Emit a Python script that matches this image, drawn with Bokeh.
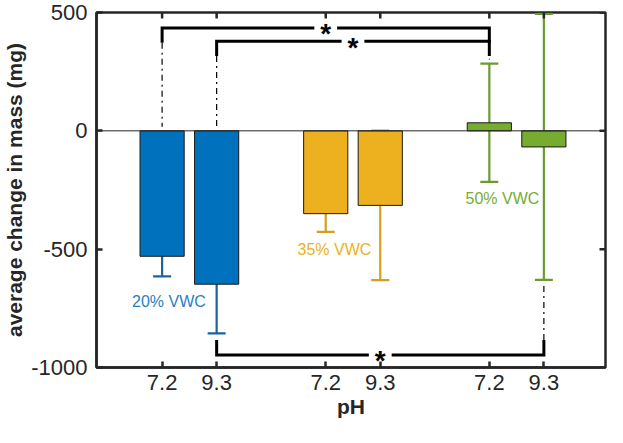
import math
from bokeh.plotting import figure
from bokeh.models import (ColumnDataSource, FixedTicker, Range1d, Span, Whisker, TeeHead)
from bokeh.embed import file_html
from bokeh.resources import INLINE
from bokeh.core.properties import value

# ---------------- data ----------------
groups = ["20% VWC", "35% VWC", "50% VWC"]
ph_labels = ["7.2", "9.3"]
mean_mass = [-530, -648, -350, -315, 34, -68]
err_mass = [85, 208, 77, 316, 250, 562]
bar_colors = ["#0072BD", "#EDB120", "#77AC30"]
err_colors = ["#1b62a0", "#d49f1c", "#6a9b30"]
label_colors = ["#2a7fc2", "#EDB120", "#77AC30"]
label_dx = [0.25, 0.32, 0.48]          # label offset from the group's 7.2 bar
label_y = [-720, -500, -284]
y_ticks = [-1000, -500, 0, 500]
y_tick_labels = ["-1000", "-500", "0", "500"]

# significance brackets: bars compared (index into bars) and bracket level
sig_a = [0, 1, 1]
sig_b = [4, 4, 5]
sig_level = [435, 379, -947]
sig_text = ["*", "*", "*"]

# ---------------- layout helpers ----------------
FONT = "Liberation Sans"
AX = "#262626"
bar_x = [6 * (k // 2 + 1) + (-1 if k % 2 == 0 else 1) for k in range(6)]
bar_w = 1.62
x_lo, x_hi = 2.594, 21.26
y_lo, y_hi = -1000, 500

W, H = 607, 427
BL, BR, BT, BB = 91, 2, 12, 60

p = figure(width=W, height=H, output_backend="svg",
           toolbar_location=None, x_range=Range1d(x_lo, x_hi),
           y_range=Range1d(y_lo, y_hi),
           min_border_left=BL, min_border_right=BR, min_border_top=BT,
           min_border_bottom=BB)
p.xgrid.visible = False
p.ygrid.visible = False
p.background_fill_color = "white"
p.border_fill_color = "white"
p.outline_line_color = AX
p.outline_line_width = 2.5

# bars
src = ColumnDataSource(dict(x=bar_x, top=mean_mass,
                            color=[bar_colors[k // 2] for k in range(6)]))
p.vbar(x="x", top="top", bottom=0, width=bar_w, fill_color="color",
       line_color="#1a1a1a", line_width=1, source=src)

# baseline
p.add_layout(Span(location=0, dimension="width", line_color=AX, line_width=1))

# error bars
for g in range(3):
    ks = [2 * g, 2 * g + 1]
    s = ColumnDataSource(dict(x=[bar_x[k] for k in ks],
                              upper=[mean_mass[k] + err_mass[k] for k in ks],
                              lower=[mean_mass[k] - err_mass[k] for k in ks]))
    c = err_colors[g]
    w = Whisker(source=s, base="x", upper="upper", lower="lower",
                line_color=c, line_width=2.2,
                upper_head=TeeHead(size=18, line_color=c, line_width=2.2),
                lower_head=TeeHead(size=18, line_color=c, line_width=2.2))
    p.add_layout(w)

# group labels
p.text(x=[bar_x[2 * g] + label_dx[g] for g in range(3)], y=label_y, text=groups,
       text_color=label_colors, text_font=value(FONT), text_font_size="16px",
       text_align="center", text_baseline="middle")

# significance brackets
upx = (W - BL - BR) / (x_hi - x_lo)  # px per x unit
leg = 63
gap = 11.5 / upx
solid_xs, solid_ys, dash_xs, dash_ys = [], [], [], []
star_x, star_y = [], []


def tip(k, up):
    if up:
        return max(0, mean_mass[k], mean_mass[k] + err_mass[k]) + 17
    return min(0, mean_mass[k], mean_mass[k] - err_mass[k]) - 17


for a, b, lev in zip(sig_a, sig_b, sig_level):
    xa, xb = bar_x[a], bar_x[b]
    up = lev > 0
    sgn = 1 if up else -1
    end = lev - sgn * leg
    mid = (xa + xb) / 2
    solid_xs += [[xa, xa, mid - gap], [mid + gap, xb, xb]]
    solid_ys += [[end, lev, lev], [lev, lev, end]]
    for k, xk in ((a, xa), (b, xb)):
        t = tip(k, up)
        if (up and t < end - 40) or ((not up) and t > end + 40):
            dash_xs.append([xk, xk])
            dash_ys.append([end, t])
    star_x.append(mid)
    star_y.append(lev)

p.multi_line(xs=dash_xs, ys=dash_ys, line_color="black", line_width=1.2,
             line_dash="6 4 2 4")
p.multi_line(xs=solid_xs, ys=solid_ys, line_color="black", line_width=3,
             line_join="miter")
p.text(x=star_x, y=star_y, text=sig_text, text_font=value(FONT),
       text_font_style="bold", text_font_size="28px", text_align="center",
       text_baseline="middle", y_offset=6, text_color="black")

# axes
xt = bar_x
p.xaxis.ticker = FixedTicker(ticks=xt)
p.xaxis.major_label_overrides = {x: ph_labels[i % 2] for i, x in enumerate(xt)}
p.yaxis.ticker = FixedTicker(ticks=y_ticks)
p.yaxis.major_label_overrides = dict(zip(y_ticks, y_tick_labels))
for ax in (p.xaxis[0], p.yaxis[0]):
    ax.axis_line_color = AX
    ax.axis_line_width = 2.5
    ax.major_tick_line_color = AX
    ax.major_tick_line_width = 2.5
    ax.major_tick_in = 6
    ax.major_tick_out = 0
    ax.minor_tick_line_color = None
    ax.major_label_text_font = FONT
    ax.major_label_text_font_size = "22px"
    ax.major_label_text_color = AX
    ax.axis_label_text_font = FONT
    ax.axis_label_text_font_size = "21px"
    ax.axis_label_text_font_style = "bold"
    ax.axis_label_text_color = AX
p.xaxis.major_label_standoff = 7
p.yaxis.major_label_standoff = 9
p.xaxis.axis_label = "pH"
p.yaxis.axis_label = "average change in mass (mg)"
p.xaxis.axis_label_standoff = 2
p.yaxis.axis_label_standoff = 2

# inward ticks on top and right edges of the box
p.ray(x=xt, y=[y_hi] * len(xt), length=6, length_units="screen",
      angle=-math.pi / 2, line_color=AX, line_width=2.5)
p.ray(x=[x_hi] * len(y_ticks), y=y_ticks, length=6, length_units="screen",
      angle=math.pi, line_color=AX, line_width=2.5)

open("out.html", "w").write(file_html(p, INLINE))
